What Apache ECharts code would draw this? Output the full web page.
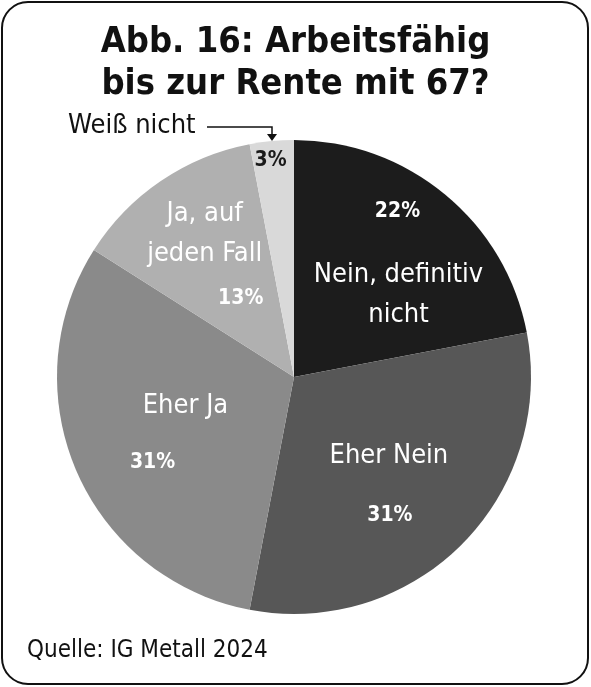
<!DOCTYPE html>
<html>
<head>
<meta charset="utf-8">
<script src="https://cdn.jsdelivr.net/npm/echarts@6/dist/echarts.min.js"></script>
<style>
  html, body { margin: 0; padding: 0; background: #fff; }
  #chart { width: 591px; height: 687px; }
</style>
</head>
<body>
<div id="chart"></div>
<script>
// Antworten im Uhrzeigersinn ab 12 Uhr
var names = ['Nein, definitiv\nnicht', 'Eher Nein', 'Eher Ja', 'Ja, auf\njeden Fall', 'Weiß nicht'];
var values = [22, 31, 31, 13, 3];
var colours = ['#1c1c1c', '#575757', '#8a8a8a', '#b0b0b0', '#d9d9d9'];

var FONT = '"Liberation Sans Narrow", "DejaVu Sans Condensed", sans-serif';

// Verschiebung der Beschriftungen gegenüber der Standardposition "inside"
var nameOffsets = [[27, 12], [9, -7], [3, -19], [-21, -43], [0, 0]];
var pctOffsets = [[26, -72], [10, 53], [-30, 37], [15, 22], [-12, -95]];

var chart = echarts.init(document.getElementById('chart'));

var baseSeries = {
  type: 'pie',
  center: [294, 377],
  radius: [0, 237],
  startAngle: 90,
  clockwise: true,
  silent: true,
  labelLine: { show: false }
};

// Segmente + Namen
var nameData = values.map(function (v, i) {
  return {
    name: names[i],
    value: v,
    itemStyle: { color: colours[i] },
    label: { show: i !== 4, offset: nameOffsets[i] }
  };
});

// unsichtbare Kopie nur für die Prozentwerte
var pctData = values.map(function (v, i) {
  return {
    name: names[i],
    value: v,
    itemStyle: { color: 'rgba(0,0,0,0)' },
    label: { offset: pctOffsets[i], color: i === 4 ? '#1a1a1a' : '#fff' }
  };
});

var option = {
  backgroundColor: '#fff',
  animation: false,
  title: {
    text: 'Abb. 16: Arbeitsfähig\nbis zur Rente mit 67?',
    left: 'center',
    top: 17,
    textStyle: {
      fontFamily: FONT,
      fontWeight: 'bold',
      fontSize: 36,
      lineHeight: 42,
      color: '#111'
    }
  },
  series: [
    Object.assign({}, baseSeries, {
      name: 'Antworten',
      itemStyle: { borderWidth: 0 },
      label: {
        show: true,
        position: 'inside',
        formatter: '{b}',
        color: '#fff',
        fontFamily: FONT,
        fontSize: 27,
        lineHeight: 40
      },
      data: nameData
    }),
    Object.assign({}, baseSeries, {
      name: 'Prozent',
      itemStyle: { borderWidth: 0 },
      label: {
        show: true,
        position: 'inside',
        formatter: '{c}%',
        fontFamily: FONT,
        fontSize: 21,
        fontWeight: 'bold'
      },
      data: pctData
    })
  ],
  graphic: [
    {
      type: 'rect',
      shape: { x: 2, y: 2, width: 586, height: 682, r: 26 },
      style: { fill: 'none', stroke: '#111', lineWidth: 2 },
      z: 100
    },
    {
      type: 'text',
      left: 68, top: 112,
      style: { text: 'Weiß nicht', font: '27px ' + FONT, fill: '#111' }
    },
    {
      type: 'polyline',
      shape: { points: [[207, 127], [272, 127], [272, 135]] },
      style: { stroke: '#111', lineWidth: 1.5, fill: 'none' }
    },
    {
      type: 'polygon',
      shape: { points: [[267, 134], [277, 134], [272, 141]] },
      style: { fill: '#111' }
    },
    {
      type: 'text',
      left: 27, top: 639,
      style: { text: 'Quelle: IG Metall 2024', font: '24px ' + FONT, fill: '#111' }
    }
  ]
};

chart.setOption(option);
</script>
</body>
</html>
